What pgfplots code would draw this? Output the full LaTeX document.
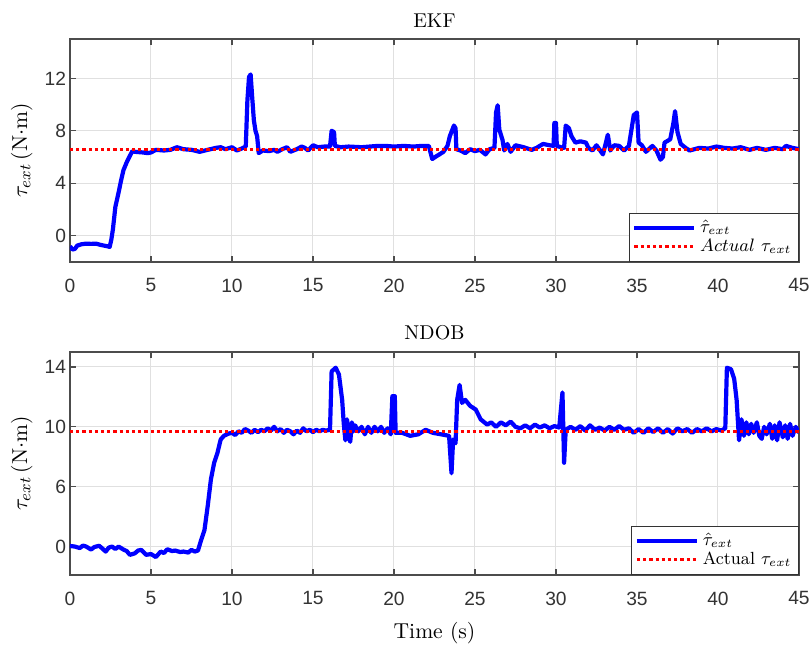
\documentclass[border=0pt]{standalone}
\usepackage{fontspec}
\setsansfont{Liberation Sans}
\usepackage{pgfplots}
\pgfplotsset{compat=1.18}

\pgfplotsset{
  tauplot/.style={
    width=364.5pt, height=111.5pt, scale only axis,
    xmin=0, xmax=45, xtick={0,5,...,45},
    grid=major, major grid style={black!12, line width=0.5pt},
    axis line style={black!70, line width=0.6pt}, tick style={black!70, line width=0.6pt},
    major tick length=3pt,
    tick label style={font=\sffamily\fontsize{9.6}{11}\selectfont, text=black!80},
    xticklabel style={inner xsep=0pt, yshift=-4.8pt},
    yticklabel style={xshift=1.5pt},
    /pgf/number format/assume math mode=true,
    title style={font=\fontsize{10}{12}\selectfont, at={(axis description cs:0.5,1)}, anchor=base},
    ylabel={$\tau_{ext}$\,(N$\cdot$m)},
    ylabel style={font=\fontsize{10.8}{12}\selectfont, inner sep=0pt,
      at={([xshift=-18.5pt]axis description cs:0,0.5)}, anchor=south},
    legend style={at={(1,0)}, anchor=south east, draw=black!80, line width=0.6pt,
      font=\fontsize{8.8}{10}\selectfont, cells={anchor=west}, row sep=-2.5pt,
      inner xsep=1.5pt, inner ysep=1.5pt},
    legend image code/.code={\draw[##1] (0cm,0cm) -- (1.05cm,0cm);},
  },
  est/.style={blue, line width=2.1pt, line join=round},
  act/.style={red, line width=1.6pt, dash pattern=on 1.6pt off 1.5pt},
}

\begin{document}
\begin{tikzpicture}
% EKF estimate
\begin{axis}[tauplot, name=top, title={EKF}, ymin=-2, ymax=15, ytick={0,4,8,12}]
\addplot[est] coordinates {
(0,-0.8)(0.15,-1.05)(0.3,-1.0)(0.45,-0.75)(0.7,-0.65)(1.0,-0.6)(1.3,-0.62)(1.6,-0.6)
(1.9,-0.7)(2.1,-0.75)(2.3,-0.8)(2.45,-0.85)(2.55,-0.3)(2.65,0.5)(2.8,2.2)(3.0,3.3)
(3.15,4.2)(3.3,5.0)(3.5,5.6)(3.7,6.1)(3.85,6.45)(4.0,6.4)(4.5,6.35)(4.8,6.3)(5.0,6.35)
(5.3,6.55)(5.8,6.5)(6.2,6.55)(6.6,6.75)(7.0,6.6)(7.5,6.55)(8.0,6.4)(8.5,6.55)(9.0,6.7)
(9.3,6.75)(9.6,6.6)(10.0,6.75)(10.3,6.5)(10.6,6.65)(10.85,6.8)(10.95,10.3)(11.05,12.1)
(11.15,12.3)(11.25,10.5)(11.35,8.8)(11.45,8.0)(11.55,7.6)(11.65,6.3)(11.9,6.5)(12.3,6.45)
(12.6,6.55)(12.8,6.4)(13.1,6.6)(13.4,6.75)(13.6,6.4)(14.0,6.6)(14.3,6.8)(14.5,6.7)
(14.7,6.5)(15.0,6.9)(15.3,6.75)(15.7,6.8)(16.05,6.8)(16.15,8.0)(16.3,7.9)(16.35,6.85)
(16.7,6.75)(17.2,6.8)(18.0,6.75)(18.5,6.8)(19.0,6.85)(19.5,6.85)(20.0,6.8)(20.6,6.85)
(21.2,6.8)(21.7,6.85)(22.15,6.85)(22.36,5.85)(22.6,6.05)(22.8,6.2)(23.05,6.4)(23.3,6.85)
(23.45,7.6)(23.7,8.4)(23.8,8.2)(23.85,6.6)(24.1,6.5)(24.4,6.3)(24.7,6.6)(25.0,6.45)
(25.3,6.55)(25.65,6.2)(25.9,6.6)(26.2,6.7)(26.3,9.4)(26.4,9.95)(26.5,8.1)(26.7,7.3)
(26.8,6.5)(27.0,7.0)(27.2,6.4)(27.5,6.9)(28.0,6.75)(28.5,6.55)(28.8,6.7)(29.2,7.0)
(29.6,6.9)(29.85,6.85)(29.9,8.6)(30.0,8.6)(30.05,6.85)(30.3,6.75)(30.5,6.7)(30.6,8.4)
(30.8,8.2)(30.95,7.6)(31.2,7.1)(31.5,7.2)(31.85,7.1)(32.0,6.7)(32.25,6.5)(32.5,6.9)
(32.9,6.2)(33.2,7.7)(33.35,6.5)(33.6,6.9)(33.9,6.85)(34.2,6.5)(34.5,6.85)(34.8,9.2)
(35.0,9.4)(35.1,7.1)(35.3,6.9)(35.55,6.4)(35.95,6.85)(36.2,6.5)(36.45,5.8)(36.6,6.0)
(36.7,7.1)(37.05,7.35)(37.25,8.6)(37.35,9.5)(37.5,7.9)(37.7,7.0)(38.0,6.7)(38.25,6.5)
(38.85,6.7)(39.4,6.65)(39.9,6.8)(40.4,6.7)(40.9,6.65)(41.4,6.75)(41.95,6.55)(42.4,6.7)
(42.95,6.55)(43.5,6.7)(44.0,6.6)(44.2,6.85)(44.6,6.7)(45,6.6)};
\addplot[act] coordinates {(0,6.6)(45,6.6)};
\legend{$\hat{\tau}_{ext}$, $Actual\ \tau_{ext}$}
\end{axis}

% NDOB estimate (tick spacing of the original is not linear in value)
\begin{axis}[tauplot, at={(0,-45pt)}, anchor=north west, title={NDOB}, xlabel={Time (s)},
  xlabel style={font=\fontsize{10.8}{12}\selectfont, at={([yshift=-32pt]axis description cs:0.5,0)}, anchor=base},
  y coord trafo/.code={\pgfmathparse{ifthenelse(#1<=6, #1*2/3, #1-2)}},
  y coord inv trafo/.code={\pgfmathparse{ifthenelse(#1<=4, #1*1.5, #1+2)}},
  ymin=-2.85, ymax=15, ytick={0,6,10,14}, yticklabels={0,6,10,14}]
\addplot[est] coordinates {
(0,0.06)(0.3,0)(0.6,-0.15)(0.8,0.1)(1.0,0)(1.3,-0.3)(1.5,-0.05)(1.8,0.08)(2.0,-0.2)(2.2,-0.5)
(2.4,-0.1)(2.6,0)(2.8,-0.25)(3.0,0)(3.3,-0.3)(3.5,-0.45)(3.7,-0.83)(4.0,-0.68)(4.2,-0.4)
(4.4,-0.33)(4.7,-0.83)(5.0,-0.75)(5.3,-1.05)(5.6,-0.5)(5.8,-0.65)(6.0,-0.27)(6.3,-0.45)
(6.5,-0.4)(6.8,-0.55)(7.0,-0.5)(7.3,-0.6)(7.5,-0.33)(7.7,-0.5)(7.9,-0.4)(8.1,0.68)(8.3,1.65)
(8.5,4.05)(8.7,6.5)(8.9,7.6)(9.1,8.25)(9.3,9.15)(9.5,9.4)(9.8,9.55)(10,9.6)(10.2,9.45)
(10.4,9.7)(10.6,9.6)(10.8,9.85)(11,9.75)(11.2,9.6)(11.4,9.8)(11.6,9.65)(11.8,9.8)(12,9.7)
(12.2,9.9)(12.4,9.75)(12.6,10.0)(12.8,9.7)(13,9.85)(13.2,9.6)(13.4,9.8)(13.6,9.7)(13.8,9.5)
(14,9.75)(14.2,9.6)(14.4,9.9)(14.6,9.7)(14.8,9.8)(15,9.65)(15.2,9.8)(15.4,9.7)(15.6,9.8)
(15.8,9.75)(16.05,9.8)(16.15,13.7)(16.4,13.95)(16.6,13.5)(16.8,11.8)(16.9,10.2)(17.0,9.1)
(17.1,10.5)(17.2,9.3)(17.3,9.0)(17.4,10.3)(17.5,9.7)(17.6,10.1)(17.8,9.7)(18,10.0)(18.2,9.5)
(18.4,10.0)(18.6,9.6)(18.8,10.0)(19,9.7)(19.2,10.0)(19.4,9.6)(19.6,9.9)(19.8,9.5)
(19.9,12.05)(20.05,12.05)(20.1,9.6)(20.5,9.6)(21,9.4)(21.5,9.5)(21.95,9.8)(22.4,9.6)
(23.4,9.4)(23.55,6.9)(23.65,9.15)(23.8,8.9)(23.9,11.8)(24.05,12.8)(24.2,11.6)(24.4,11.8)
(24.7,11.4)(25.05,11.15)(25.35,10.5)(25.75,10.15)(26,10.3)(26.3,10.0)(26.6,10.3)(26.9,10.1)
(27.2,10.35)(27.5,10.0)(27.8,9.9)(28.1,10.1)(28.4,9.9)(28.7,10.15)(29,9.95)(29.3,10.1)
(29.6,9.9)(29.9,10.05)(30.2,9.95)(30.4,12.3)(30.5,7.6)(30.6,9.8)(30.9,10.0)(31.2,9.8)
(31.5,10.05)(31.8,9.75)(32.1,10.1)(32.4,9.8)(32.7,9.95)(33,9.75)(33.3,10.0)(33.6,9.8)
(33.9,10.05)(34.2,9.8)(34.5,9.9)(34.8,9.6)(35.1,9.85)(35.4,9.6)(35.7,9.9)(36,9.65)(36.3,9.9)
(36.6,9.6)(36.9,9.85)(37.2,9.55)(37.5,9.9)(37.8,9.7)(38.1,9.85)(38.4,9.6)(38.7,9.85)(39,9.7)
(39.3,9.9)(39.6,9.7)(39.9,9.85)(40.2,9.75)(40.45,9.9)(40.55,13.95)(40.8,13.85)(41.0,13.2)
(41.15,11.8)(41.3,9.1)(41.45,10.5)(41.6,9.4)(41.75,10.3)(41.9,9.5)(42.05,10.2)(42.2,9.6)
(42.4,10.3)(42.55,9.4)(42.7,9.2)(42.85,10.0)(43,9.5)(43.2,10.2)(43.35,9.2)(43.5,10.1)
(43.65,9.1)(43.8,10.3)(44,9.3)(44.15,10.1)(44.3,9.2)(44.45,10.2)(44.6,9.4)(44.8,10.0)(45,9.6)};
\addplot[act] coordinates {(0,9.7)(45,9.7)};
\legend{$\hat{\tau}_{ext}$, Actual $\tau_{ext}$}
\end{axis}
% page frame in the reference's proportions (811 x 647)
\pgfresetboundingbox
\path (-35pt,-192.5pt) rectangle (370.5pt,131pt);
\end{tikzpicture}
\end{document}
